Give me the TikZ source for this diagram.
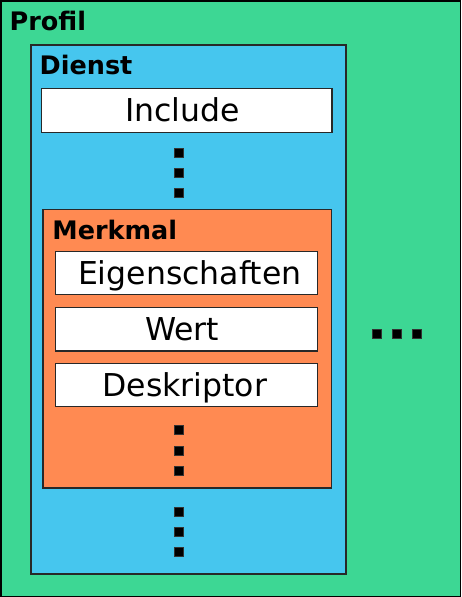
\documentclass[tikz,border=0pt]{standalone}
\usepackage{fontspec}
\setmainfont{DejaVu Sans}
\definecolor{profilgreen}{RGB}{61,215,148}
\definecolor{dienstblue}{RGB}{70,198,238}
\definecolor{merkorange}{RGB}{255,138,82}
\definecolor{edgegray}{RGB}{40,40,40}
\begin{document}
\begin{tikzpicture}[x=1pt,y=-1pt,
  frame/.style={draw=edgegray,line width=1.3pt},
  field/.style={draw=edgegray,line width=1.2pt,fill=white,rectangle,inner sep=0pt,
    minimum width=#1,minimum height=43.5pt,text height=22.5pt,text depth=0pt,
    font=\fontsize{31.5}{36}\selectfont},
  field/.default=262pt,
  title/.style={anchor=base west,inner sep=0pt,font=\fontsize{25.5}{30}\selectfont\bfseries},
  sq/.style={draw=black!80,fill=black,line width=0.4pt,minimum size=9.2pt,inner sep=0pt,rectangle}
]
\useasboundingbox (0,0) rectangle (461,597);
% Profil
\draw[frame,draw=black,fill=profilgreen,line width=1.5pt] (0.75,0.75) rectangle (460.25,596.25);
\node[title] (profil) at (9.5,30.7) {Profil};
% Dienst
\draw[frame,fill=dienstblue] (31,45) rectangle (346,574);
\node[title] (dienst) at (39.5,74.3) {Dienst};
\node[field=290.5pt] (include) at (186.8,110.5) {\hspace*{-8.6pt}Include};
\node[sq] (dt1) at (179,153) {};
\node[sq] (dt2) at (179,173) {};
\node[sq] (dt3) at (179,193) {};
% Merkmal
\draw[frame,fill=merkorange] (43,209.3) rectangle (331.5,488);
\node[title] (merkmal) at (52.2,239) {Merkmal};
\node[field] (eig) at (186.2,273) {\hspace*{7pt}Eigenschaften};
\node[field] (wert) at (186.2,329.2) {\hspace*{-8.4pt}Wert};
\node[field] (desk) at (186.2,385) {\hspace*{-2.8pt}Deskriptor};
\node[sq] (mt1) at (179,430) {};
\node[sq] (mt2) at (179,450.5) {};
\node[sq] (mt3) at (179,471) {};
% Dienst bottom dots
\node[sq] (bt1) at (179,511.5) {};
\node[sq] (bt2) at (179,531.5) {};
\node[sq] (bt3) at (179,552) {};
% right dots
\node[sq] (rt1) at (376.5,333.5) {};
\node[sq] (rt2) at (396.5,333.5) {};
\node[sq] (rt3) at (416.5,333.5) {};
\end{tikzpicture}
\end{document}
